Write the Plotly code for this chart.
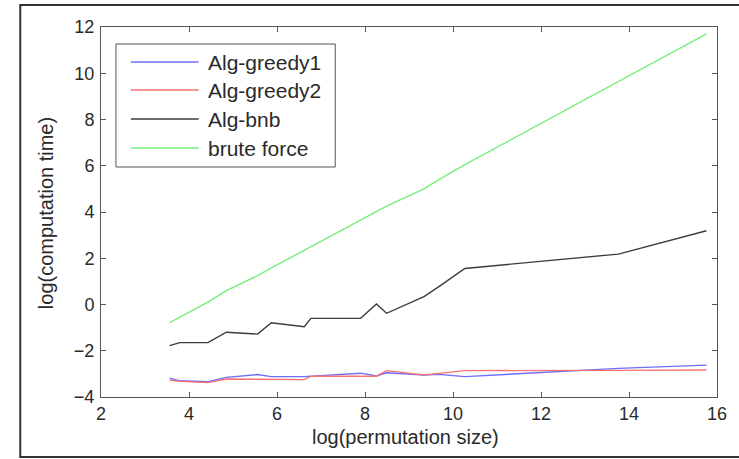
import plotly.graph_objects as go

# ---- data ----
log_perm_size = [3.56, 3.79, 4.43, 4.85, 5.56, 5.87, 6.62, 6.77, 7.90, 8.26, 8.49, 9.34, 9.68, 10.27, 13.76, 15.76]
alg_greedy1 = [-3.19, -3.30, -3.34, -3.15, -3.03, -3.12, -3.12, -3.10, -2.97, -3.09, -2.95, -3.05, -3.02, -3.12, -2.76, -2.62]
alg_greedy2 = [-3.27, -3.32, -3.38, -3.22, -3.23, -3.23, -3.25, -3.10, -3.10, -3.10, -2.86, -3.05, -2.98, -2.86, -2.85, -2.83]
alg_bnb = [-1.78, -1.65, -1.65, -1.20, -1.28, -0.79, -0.96, -0.60, -0.60, 0.02, -0.38, 0.34, 0.77, 1.56, 2.18, 3.19]
brute_force = [-0.78, -0.55, 0.10, 0.60, 1.25, 1.58, 2.35, 2.50, 3.65, 4.00, 4.25, 5.00, 5.40, 6.05, 9.65, 11.70]

series_names = ["Alg-greedy1", "Alg-greedy2", "Alg-bnb", "brute force"]
series_values = [alg_greedy1, alg_greedy2, alg_bnb, brute_force]
series_colors = ["rgb(110,110,250)", "rgb(250,115,115)", "rgb(60,60,60)", "rgb(120,238,120)"]

x_ticks = [2, 4, 6, 8, 10, 12, 14, 16]
y_ticks = [-4, -2, 0, 2, 4, 6, 8, 10, 12]

W, H = 739, 459
L, R, T, B = 101, 719, 27, 397  # plot area in pixels
FONT = "Liberation Sans, Arial, sans-serif"


def px(xp):
    return (xp - L) / (R - L)


def py(yp):
    return (B - yp) / (B - T)


fig = go.Figure()
for name, vals, col in zip(series_names, series_values, series_colors):
    fig.add_trace(go.Scatter(x=log_perm_size, y=vals, mode="lines", name=name,
                             line=dict(color=col, width=1.4), showlegend=False))

axis_common = dict(showline=True, linecolor="#555555", linewidth=1, mirror="ticks",
                   ticks="inside", ticklen=5, tickcolor="#555555", showgrid=False,
                   zeroline=False, tickfont=dict(family=FONT, size=18, color="#2a2a2a"))

fig.update_xaxes(range=[2, 16], tickvals=x_ticks, ticklabelstandoff=0, **axis_common)
fig.update_yaxes(range=[-4, 12], tickvals=y_ticks, ticklabelstandoff=2, **axis_common)

shapes = []
# outer frame
shapes.append(dict(type="rect", xref="paper", yref="paper",
                   x0=px(20), x1=px(760), y0=py(457), y1=py(5),
                   line=dict(color="#333333", width=2), fillcolor="rgba(0,0,0,0)"))
# legend box
shapes.append(dict(type="rect", xref="paper", yref="paper",
                   x0=px(116), x1=px(336), y0=py(167), y1=py(44),
                   line=dict(color="#555555", width=1), fillcolor="white"))
annotations = []
rows = [62, 90, 119, 148]
for name, col, ry in zip(series_names, series_colors, rows):
    shapes.append(dict(type="line", xref="paper", yref="paper",
                       x0=px(131), x1=px(199), y0=py(ry), y1=py(ry),
                       line=dict(color=col, width=1.6)))
    annotations.append(dict(text=name, xref="paper", yref="paper", x=px(206), y=py(ry),
                            xanchor="left", yanchor="middle", showarrow=False,
                            font=dict(family=FONT, size=21, color="#2a2a2a")))

annotations.append(dict(text="log(permutation size)", xref="paper", yref="paper",
                        x=px(406), y=py(437), xanchor="center", yanchor="middle",
                        showarrow=False, font=dict(family=FONT, size=20, color="#2a2a2a")))
annotations.append(dict(text="log(computation time)", xref="paper", yref="paper",
                        x=px(46), y=py(213), xanchor="center", yanchor="middle",
                        textangle=-90, showarrow=False,
                        font=dict(family=FONT, size=20, color="#2a2a2a")))

fig.update_layout(width=W, height=H, margin=dict(l=L, r=W - R, t=T, b=H - B),
                  paper_bgcolor="white", plot_bgcolor="white",
                  shapes=shapes, annotations=annotations, showlegend=False)

fig.write_html("out.html", config={"displayModeBar": False},
               post_script="document.body.style.margin='0';document.body.style.overflow='hidden';")
